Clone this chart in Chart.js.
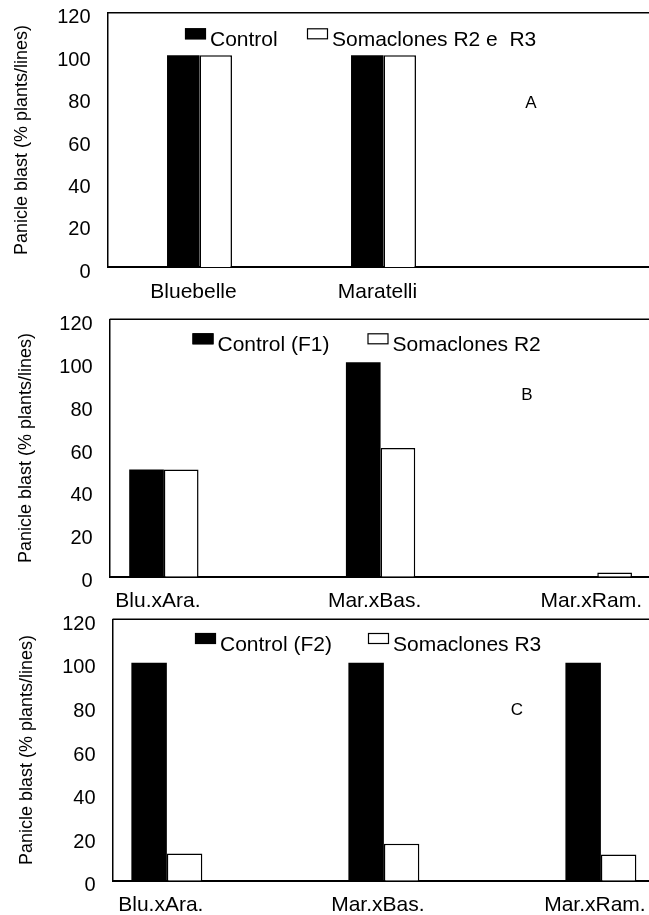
<!DOCTYPE html>
<html><head><meta charset="utf-8">
<script src="https://cdn.jsdelivr.net/npm/chart.js@4/dist/chart.umd.min.js"></script>
<style>
html,body{margin:0;padding:0;background:#fff;overflow:hidden;}
#wrap{position:relative;width:649px;height:915px;overflow:hidden;background:#fff;}
canvas{position:absolute;left:0;}
</style></head><body>
<div id="wrap">
<canvas id="cA" width="680" height="310" style="top:0px"></canvas>
<canvas id="cB" width="680" height="320" style="top:300px"></canvas>
<canvas id="cC" width="680" height="315" style="top:600px"></canvas>
</div>
<script>
// ---- data ----
const yAxisTitle = 'Panicle blast (% plants/lines)';
const yMin = 0, yMax = 120, yStep = 20;

const catsA = ['Bluebelle', 'Maratelli'];
const seriesA = ['Control', 'Somaclones R2 e  R3'];
const controlA = [100, 100];
const somaA = [100, 100];

const catsB = ['Blu.xAra.', 'Mar.xBas.', 'Mar.xRam.'];
const seriesB = ['Control (F1)', 'Somaclones R2'];
const controlB = [50, 100, 0];
const somaB = [50, 60, 2];

const catsC = ['Blu.xAra.', 'Mar.xBas.', 'Mar.xRam.'];
const seriesC = ['Control (F2)', 'Somaclones R3'];
const controlC = [100, 100, 100];
const somaC = [12.5, 17, 12];

const panelLetters = ['A', 'B', 'C'];

// ---- rendering ----
Chart.defaults.font.family = '"Liberation Sans", Arial, sans-serif';
Chart.defaults.color = '#000';

const decor = {
  id: 'panelDecor',
  afterDraw(chart, args, o) {
    const {ctx, chartArea: a} = chart;
    ctx.save();
    ctx.strokeStyle = '#000';
    ctx.lineWidth = 1.5;
    ctx.beginPath();
    ctx.moveTo(a.left, a.top);
    ctx.lineTo(a.right, a.top);
    ctx.lineTo(a.right, a.bottom);
    ctx.stroke();
    ctx.font = '21px "Liberation Sans", Arial, sans-serif';
    ctx.textBaseline = 'alphabetic';
    ctx.textAlign = 'left';
    chart.data.datasets.forEach((ds, i) => {
      const bx = o.legendX[i], by = a.top + o.legendDy;
      ctx.fillStyle = ds.backgroundColor;
      ctx.fillRect(bx, by, 21, 11);
      ctx.lineWidth = 1.2;
      ctx.strokeStyle = '#000';
      ctx.strokeRect(bx + 0.5, by + 0.5, 20, 10);
      ctx.fillStyle = '#000';
      ctx.fillText(ds.label, bx + 25, by + 17.5);
    });
    ctx.font = '17px "Liberation Sans", Arial, sans-serif';
    ctx.textAlign = 'center';
    ctx.textBaseline = 'middle';
    ctx.fillText(o.letter, o.letterX, o.letterY);
    ctx.restore();
  }
};

function noPad(s) { s.paddingTop = 0; s.paddingBottom = 0; s.paddingLeft = 0; s.paddingRight = 0; }

function makePanel(id, cats, series, control, soma, letter, cfg) {
  new Chart(document.getElementById(id), {
    type: 'bar',
    data: {
      datasets: [
        { label: series[0], data: control.map((v, i) => ({x: i, y: v})),
          backgroundColor: '#000', borderColor: '#000', borderWidth: 0 },
        { label: series[1], data: soma.map((v, i) => ({x: i, y: v})),
          backgroundColor: '#fff', borderColor: '#000', borderWidth: 1.5 }
      ]
    },
    options: {
      responsive: false,
      animation: false,
      devicePixelRatio: 1,
      events: [],
      layout: { padding: { left: 0, top: cfg.padTop, right: cfg.padRight, bottom: 0 } },
      datasets: { bar: { barPercentage: 1, categoryPercentage: cfg.catPct } },
      plugins: {
        legend: { display: false },
        tooltip: { enabled: false },
        panelDecor: { legendX: cfg.legendX, legendDy: cfg.legendDy, letter: letter,
                      letterX: cfg.letterX, letterY: cfg.letterY }
      },
      scales: {
        x: {
          type: 'linear', min: cfg.xMin, max: cfg.xMax, offset: false,
          grid: { display: false, drawTicks: false },
          border: { display: true, color: '#000', width: 2 },
          afterBuildTicks: axis => { axis.ticks = cats.map((c, i) => ({ value: i })); },
          afterFit: s => { s.height = cfg.xH; noPad(s); },
          ticks: { padding: 12, labelOffset: -6, maxRotation: 0, minRotation: 0, autoSkip: false,
                   font: { size: 21 }, color: '#000',
                   callback: v => (cats[v] !== undefined ? cats[v] : '') }
        },
        y: {
          min: yMin, max: yMax,
          grid: { display: false, drawTicks: false },
          border: { display: true, color: '#000', width: 1.5 },
          afterFit: s => { s.width = cfg.yW; noPad(s); },
          ticks: { stepSize: yStep, padding: 17, labelOffset: 5, font: { size: 20 }, color: '#000' },
          title: { display: true, text: yAxisTitle, font: { size: 18 }, color: '#000',
                   padding: { top: cfg.titlePad, bottom: 0 } }
        }
      }
    },
    plugins: [decor]
  });
}

makePanel('cA', catsA, seriesA, controlA, somaA, panelLetters[0], {
  padTop: 12.7, padRight: 20.5, xH: 42.7, yW: 107.5, xMin: -0.5, xMax: 2.5, catPct: 0.353,
  titlePad: 10.9, legendX: [185, 307], legendDy: 15.6, letterX: 531, letterY: 103
});
makePanel('cB', catsB, seriesB, controlB, somaB, panelLetters[1], {
  padTop: 19.3, padRight: 17.7, xH: 43.3, yW: 109.7, xMin: -0.25, xMax: 2.3, catPct: 0.32,
  titlePad: 15, legendX: [192.5, 367.5], legendDy: 14, letterX: 527, letterY: 95
});
makePanel('cC', catsC, seriesC, controlC, somaC, panelLetters[2], {
  padTop: 19.3, padRight: 14, xH: 34.3, yW: 112.6, xMin: -0.25, xMax: 2.3, catPct: 0.327,
  titlePad: 16.1, legendX: [195, 368], legendDy: 13.7, letterX: 517, letterY: 110.5
});
</script>
</body></html>
